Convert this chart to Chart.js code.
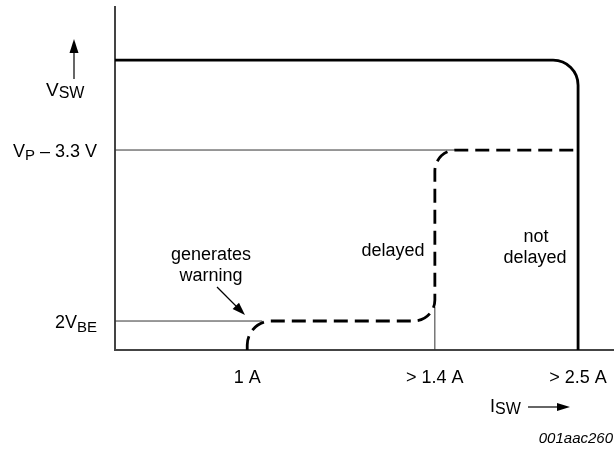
<!DOCTYPE html>
<html>
<head>
<meta charset="utf-8">
<script src="https://cdn.jsdelivr.net/npm/chart.js@4.4.0/dist/chart.umd.min.js"></script>
<style>
  html, body { margin: 0; padding: 0; background: #fff; }
  #wrap { width: 614px; height: 449px; }
</style>
</head>
<body>
<div id="wrap"><canvas id="chart"></canvas></div>
<script>
// schematic units: x 0..10, y 0..10 (no real scale on the diagram)
const xTickValues = [2.65, 6.41, 9.28];
const xTickLabels = ["1 A", "> 1.4 A", "> 2.5 A"];

const yLevels = { vbe2: 0.845, vp: 5.83, vsw: 8.45 };

// V_SW with fast trip (not delayed)
const notDelayedX = [0, 9.28, 9.28];
const notDelayedY = [yLevels.vsw, yLevels.vsw, 0];

// delayed / warning curve
const delayedX = [2.65, 2.65, 6.41, 6.41, 9.28];
const delayedY = [0, yLevels.vbe2, yLevels.vbe2, yLevels.vp, yLevels.vp];

// thin reference lines
const vpRefX = [0, 6.81];
const vpRefY = [yLevels.vp, yLevels.vp];
const vbeRefX = [0, 2.95];
const vbeRefY = [yLevels.vbe2, yLevels.vbe2];
const i14RefX = [6.41, 6.41];
const i14RefY = [0, 1.25];

const FONT = "'Liberation Sans', Arial, Helvetica, sans-serif";

const pts = (xs, ys) => xs.map((x, i) => ({ x: x, y: ys[i] }));

// draws a polyline through the points chart.js placed, with rounded corners
const roundedLines = {
  id: "roundedLines",
  afterDatasetsDraw(chart) {
    const ctx = chart.ctx;
    chart.data.datasets.forEach((ds, i) => {
      if (!ds.cornerRadius) return;
      const p = chart.getDatasetMeta(i).data;
      ctx.save();
      ctx.beginPath();
      ctx.moveTo(p[0].x, p[0].y);
      for (let k = 1; k < p.length - 1; k++) {
        ctx.arcTo(p[k].x, p[k].y, p[k + 1].x, p[k + 1].y, ds.cornerRadius[k - 1]);
      }
      ctx.lineTo(p[p.length - 1].x, p[p.length - 1].y);
      ctx.lineWidth = ds.strokeWidth;
      ctx.strokeStyle = "#000";
      ctx.lineCap = "butt";
      ctx.setLineDash(ds.dash || []);
      ctx.stroke();
      ctx.restore();
    });
  }
};

function richText(ctx, parts, x, y, align) {
  // parts: [text, size, dy]
  let w = 0;
  parts.forEach(p => { ctx.font = p[1] + "px " + FONT; w += ctx.measureText(p[0]).width; });
  let cx = align === "right" ? x - w : align === "center" ? x - w / 2 : x;
  ctx.textAlign = "left";
  ctx.textBaseline = "alphabetic";
  parts.forEach(p => {
    ctx.font = p[1] + "px " + FONT;
    ctx.fillText(p[0], cx, y + (p[2] || 0));
    cx += ctx.measureText(p[0]).width;
  });
}

function arrow(ctx, x1, y1, x2, y2, len, half) {
  const a = Math.atan2(y2 - y1, x2 - x1);
  ctx.beginPath();
  ctx.moveTo(x1, y1);
  ctx.lineTo(x2 - Math.cos(a) * len * 0.9, y2 - Math.sin(a) * len * 0.9);
  ctx.lineWidth = 1.2;
  ctx.strokeStyle = "#000";
  ctx.stroke();
  ctx.beginPath();
  ctx.moveTo(x2, y2);
  ctx.lineTo(x2 - Math.cos(a) * len - Math.sin(a) * half, y2 - Math.sin(a) * len + Math.cos(a) * half);
  ctx.lineTo(x2 - Math.cos(a) * len + Math.sin(a) * half, y2 - Math.sin(a) * len - Math.cos(a) * half);
  ctx.closePath();
  ctx.fillStyle = "#000";
  ctx.fill();
}

const labels = {
  id: "labels",
  afterDraw(chart) {
    const ctx = chart.ctx;
    const ys = chart.scales.y;
    ctx.save();
    ctx.fillStyle = "#000";

    // y level labels
    richText(ctx, [["V", 18], ["P", 15, 3], [" \u2013 3.3 V", 18]], 97, ys.getPixelForValue(yLevels.vp) + 7, "right");
    richText(ctx, [["2V", 18], ["BE", 15, 4]], 97, ys.getPixelForValue(yLevels.vbe2) + 7, "right");

    // axis names
    richText(ctx, [["V", 19], ["SW", 16, 2]], 46, 96, "left");
    arrow(ctx, 74, 79, 74, 39, 14, 4.5);
    richText(ctx, [["I", 18], ["SW", 16, 2]], 490, 412, "left");
    arrow(ctx, 528, 407, 570, 407, 13, 4);

    // region notes
    ctx.font = "18px " + FONT;
    ctx.textAlign = "center";
    ctx.fillText("generates", 211, 260);
    ctx.fillText("warning", 211, 281);
    ctx.fillText("delayed", 393, 256);
    ctx.fillText("not", 536, 242);
    ctx.fillText("delayed", 535, 263);
    arrow(ctx, 217, 287, 245, 315, 13, 4.5);

    ctx.font = "italic 15px " + FONT;
    ctx.textAlign = "right";
    ctx.fillText("001aac260", 613, 443);
    ctx.restore();
  }
};

new Chart(document.getElementById("chart"), {
  type: "line",
  data: {
    datasets: [
      { data: pts(vpRefX, vpRefY), borderColor: "#333", borderWidth: 1 },
      { data: pts(vbeRefX, vbeRefY), borderColor: "#333", borderWidth: 1 },
      { data: pts(i14RefX, i14RefY), borderColor: "#333", borderWidth: 1 },
      { data: pts(notDelayedX, notDelayedY), showLine: false, cornerRadius: [25], strokeWidth: 2.8 },
      { data: pts(delayedX, delayedY), showLine: false, cornerRadius: [24, 21, 21], strokeWidth: 2.8, dash: [14, 7] }
    ]
  },
  options: {
    responsive: true,
    maintainAspectRatio: false,
    animation: false,
    layout: { padding: { top: 7, right: 0, left: 0, bottom: 0 } },
    elements: { point: { radius: 0 }, line: { tension: 0 } },
    plugins: { legend: { display: false }, tooltip: { enabled: false } },
    scales: {
      x: {
        type: "linear",
        min: 0,
        max: 10,
        grid: { display: false, drawTicks: false },
        border: { display: true, color: "#444", width: 2 },
        afterBuildTicks: (scale) => { scale.ticks = xTickValues.map(v => ({ value: v })); },
        afterFit: (scale) => {
          scale.height = 99;
          scale.paddingLeft = 0;
          scale.paddingRight = 0;
        },
        ticks: {
          autoSkip: false,
          maxRotation: 0,
          padding: 17,
          color: "#000",
          font: { family: FONT, size: 18 },
          callback: (v, i) => xTickLabels[i]
        }
      },
      y: {
        type: "linear",
        min: 0,
        max: 10,
        grid: { display: false, drawTicks: false },
        border: { display: true, color: "#444", width: 2 },
        ticks: { display: false },
        afterFit: (scale) => {
          scale.width = 115;
          scale.paddingTop = 0;
          scale.paddingBottom = 0;
        }
      }
    }
  },
  plugins: [roundedLines, labels]
});
</script>
</body>
</html>
